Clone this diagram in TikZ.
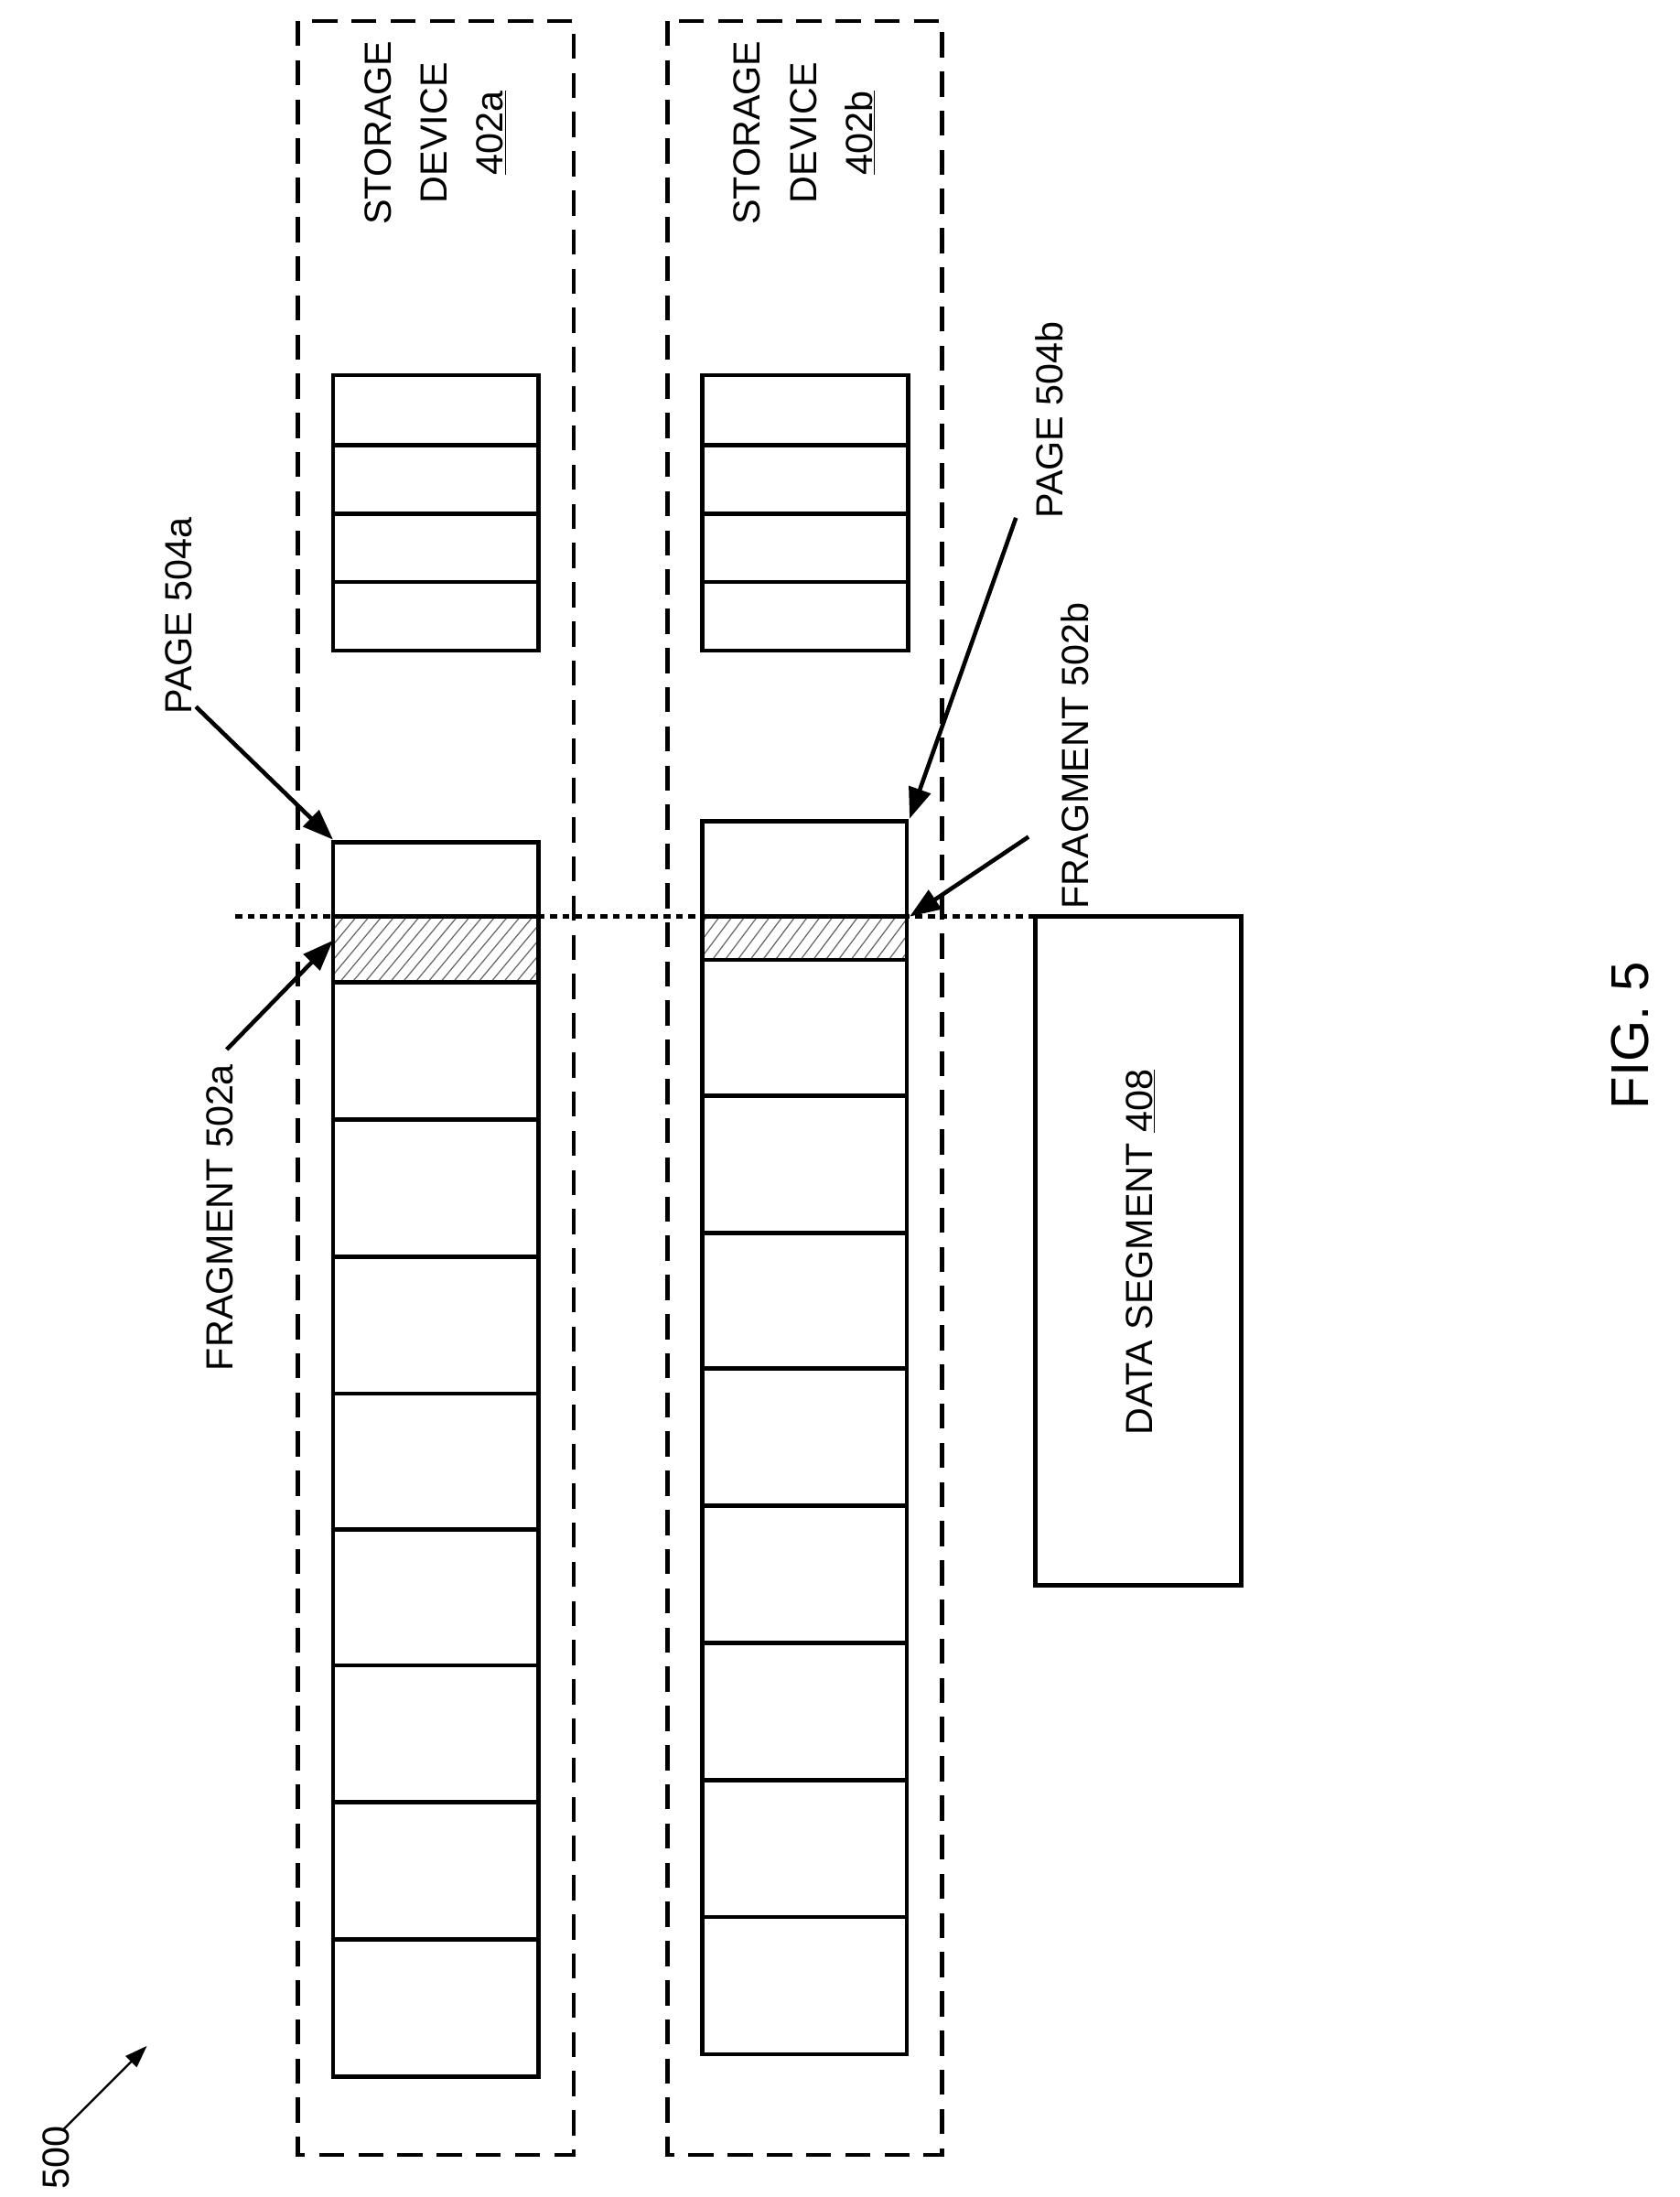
\documentclass[tikz,border=0pt]{standalone}
\usepackage{fontspec}
\setmainfont{Liberation Sans}
\usetikzlibrary{arrows.meta}
\begin{document}
\begin{tikzpicture}[x=1pt,y=-1pt,
  box/.style={line width=3pt},
  dbox/.style={line width=3pt,dash pattern=on 18pt off 10pt},
  lbl/.style={rotate=90,font=\fontsize{27}{40}\selectfont,align=center,inner sep=0pt},
  hat/.style={line width=0.8pt,gray!80!black},
  arr/.style={line width=3pt,-{Triangle[length=22pt,width=16pt]}}]
\useasboundingbox (0,0) rectangle (1200,1570);
\draw[dbox] (213,15) rectangle (410,1540);
\draw[dbox] (477,15) rectangle (673,1540);
% small stacks
\foreach \x in {238,502}{
  \draw[box] (\x,268) rectangle (\x+147,465);
  \foreach \y in {318,367,416} \draw[box] (\x,\y) -- (\x+147,\y);
}
% hatching
\begin{scope}
\clip (238,655) rectangle (385,702);
\foreach \i in {0,9,...,220} \draw[hat] (200+\i,710) -- (250+\i,650);
\end{scope}
\begin{scope}
\clip (502,655) rectangle (648,686);
\foreach \i in {0,9,...,200} \draw[hat] (470+\i,690) -- (500+\i,650);
\end{scope}
% column A
\draw[box] (238,602) rectangle (385,1484);
\foreach \y in {655,702,800,898,996,1093,1190,1288,1386} \draw[box] (238,\y) -- (385,\y);
% column B
\draw[box] (502,587) rectangle (648,1468);
\foreach \y in {655,686,783,881,978,1076,1174,1272,1370} \draw[box] (502,\y) -- (648,\y);
% dotted line
\draw[line width=3pt,dash pattern=on 5pt off 4pt] (168,655) -- (740,655);
% data segment
\draw[box] (740,655) rectangle (887,1133);
\node[lbl] (ds) at (815,895) {DATA SEGMENT \underline{408}};
\node[lbl] (sa) at (311,95) {STORAGE\\DEVICE\\\underline{402a}};
\node[lbl] (sb) at (575,95) {STORAGE\\DEVICE\\\underline{402b}};
\node[lbl] (pa) at (128,440) {PAGE 504a};
\node[lbl] (fa) at (157,870) {FRAGMENT 502a};
\node[lbl] (pb) at (750,300) {PAGE 504b};
\node[lbl] (fb) at (768,540) {FRAGMENT 502b};
\node[rotate=90,font=\fontsize{38}{44}\selectfont,inner sep=0pt] (fig) at (1165,740) {FIG. 5};
\node[lbl] (n500) at (40,1542) {500};
\coordinate (pa1) at (140,505); \coordinate (pa2) at (238,600);
\coordinate (fa1) at (162,750); \coordinate (fa2) at (238,672);
\coordinate (pb1) at (726,370); \coordinate (pb2) at (650,585);
\coordinate (fb1) at (735,598); \coordinate (fb2) at (650,655);
\coordinate (n1) at (45,1522); \coordinate (n2) at (105,1462);
\draw[arr] (pa1) -- (pa2);
\draw[arr] (fa1) -- (fa2);
\draw[arr] (pb1) -- (pb2);
\draw[arr] (fb1) -- (fb2);
\draw[line width=1.5pt,-{Triangle[length=16pt,width=11pt]}] (n1) -- (n2);
\end{tikzpicture}
\end{document}
